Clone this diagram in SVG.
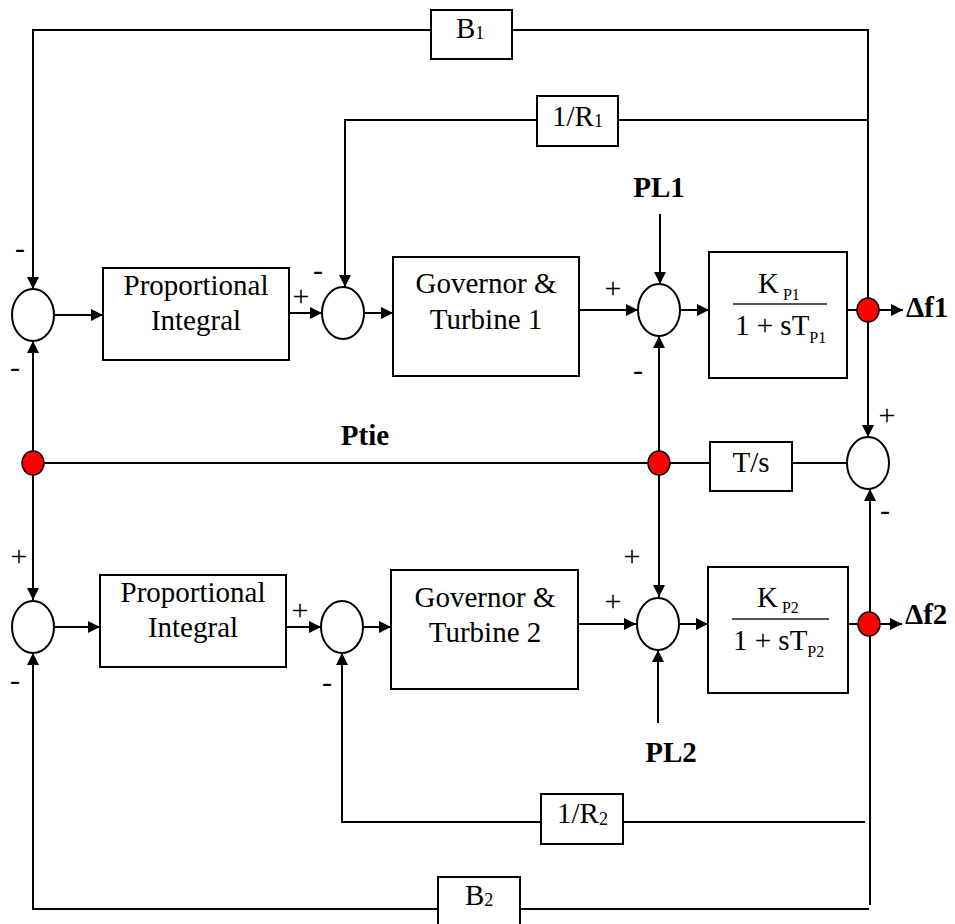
<svg xmlns="http://www.w3.org/2000/svg" width="955" height="924" viewBox="0 0 955 924">
<style>
.box{fill:#fff;stroke:#000;stroke-width:2}
.sum{fill:#fff;stroke:#000;stroke-width:2}
.dot{fill:#f00;stroke:#000;stroke-width:1.5}
.ln{fill:none;stroke:#000;stroke-width:2}
.arr{fill:none;stroke:#000;stroke-width:2;marker-end:url(#ah)}
.t{font-family:"Liberation Serif","Times New Roman",serif;font-size:29px;fill:#000}
.b{font-family:"Liberation Serif","Times New Roman",serif;font-size:29px;font-weight:bold;fill:#000}
.s{font-family:"Liberation Serif","Times New Roman",serif;font-size:30px;fill:#000;text-anchor:middle}
.sub{font-size:18px}
.ss{font-size:16px}
.frac{stroke:#555;stroke-width:2}
</style>
<defs>
<marker id="ah" viewBox="0 0 12 12" refX="12" refY="6" markerWidth="12" markerHeight="12" markerUnits="userSpaceOnUse" orient="auto">
<path d="M0,0 L12,6 L0,12 z" fill="#000"/>
</marker>
</defs>
<rect width="955" height="924" fill="#fff"/>

<g id="connectors">
<path class="arr" d="M431,30 H33 V289"/>
<path class="arr" d="M512,30 H868 V437"/>
<path class="arr" d="M537,120 H345 V287"/>
<path class="ln" d="M618,120 H868"/>
<path class="arr" d="M54,315 H103"/>
<path class="arr" d="M289,313 H322"/>
<path class="arr" d="M364,313 H393"/>
<path class="arr" d="M579,310 H638"/>
<path class="arr" d="M660,214 V284"/>
<path class="arr" d="M680,310 H709"/>
<path class="ln" d="M847,310 H858"/>
<path class="arr" d="M879,310 H903"/>
<path class="ln" d="M33,463 H710"/>
<path class="ln" d="M792,463 H847"/>
<path class="arr" d="M33,463 V341"/>
<path class="arr" d="M33,463 V600"/>
<path class="arr" d="M659,463 V336"/>
<path class="arr" d="M659,463 V597"/>
<path class="arr" d="M870,905 V489"/>
<path class="ln" d="M848,624 H858"/>
<path class="arr" d="M880,624 H902"/>
<path class="arr" d="M541,822 H342 V653"/>
<path class="ln" d="M623,822 H865"/>
<path class="arr" d="M438,909 H33 V653"/>
<path class="ln" d="M520,909 H869"/>
<path class="arr" d="M54,627 H100"/>
<path class="arr" d="M286,627 H321"/>
<path class="arr" d="M363,627 H391"/>
<path class="arr" d="M578,624 H636"/>
<path class="arr" d="M658,723 V650"/>
<path class="arr" d="M679,624 H708"/>
</g>

<g id="B1"><rect class="box" x="431" y="10" width="81" height="49"/><text class="t" x="456" y="38">B<tspan class="sub" dy="1">1</tspan></text></g>
<g id="R1"><rect class="box" x="537" y="96" width="81" height="50"/><text class="t" x="552" y="126">1/R<tspan class="sub" dy="1">1</tspan></text></g>
<g id="sum1"><ellipse class="sum" cx="33" cy="315" rx="21" ry="26"/></g>
<g id="PI1"><rect class="box" x="103" y="268" width="186" height="92"/><text class="t" x="196" y="295" text-anchor="middle">Proportional</text><text class="t" x="196" y="330" text-anchor="middle">Integral</text></g>
<g id="sum2"><ellipse class="sum" cx="343" cy="313" rx="21" ry="26"/></g>
<g id="Gov1"><rect class="box" x="393" y="257" width="186" height="119"/><text class="t" x="486" y="293" text-anchor="middle">Governor &amp;</text><text class="t" x="486" y="329" text-anchor="middle">Turbine 1</text></g>
<g id="sum3"><ellipse class="sum" cx="659" cy="310" rx="21" ry="26"/></g>
<g id="KP1"><rect class="box" x="709" y="252" width="138" height="126"/><line class="frac" x1="733" y1="304" x2="827" y2="304"/><text class="t" x="758" y="293">K<tspan class="ss" dx="4" dy="7">P1</tspan></text><text class="t" x="735" y="335">1 + sT<tspan class="ss" dy="8">P1</tspan></text></g>
<g id="dotF1"><ellipse class="dot" cx="868" cy="310" rx="11" ry="12"/></g>
<g id="lblF1"><text class="b" x="906" y="317" font-size="27">Δf1</text></g>
<g id="PL1"><text class="b" x="659" y="197" text-anchor="middle">PL1</text></g>
<g id="Ptie"><text class="b" x="365" y="445" text-anchor="middle">Ptie</text></g>
<g id="dotL"><ellipse class="dot" cx="33" cy="463" rx="11" ry="12"/></g>
<g id="dotM"><ellipse class="dot" cx="659" cy="463" rx="11" ry="12"/></g>
<g id="Ts"><rect class="box" x="710" y="442" width="82" height="49"/><text class="t" x="751" y="472" text-anchor="middle">T/s</text></g>
<g id="sumT"><ellipse class="sum" cx="868" cy="463" rx="21" ry="26"/></g>
<g id="sum4"><ellipse class="sum" cx="33" cy="627" rx="21" ry="26"/></g>
<g id="PI2"><rect class="box" x="100" y="575" width="186" height="92"/><text class="t" x="193" y="602" text-anchor="middle">Proportional</text><text class="t" x="193" y="637" text-anchor="middle">Integral</text></g>
<g id="sum5"><ellipse class="sum" cx="342" cy="627" rx="21" ry="26"/></g>
<g id="Gov2"><rect class="box" x="391" y="570" width="187" height="119"/><text class="t" x="485" y="607" text-anchor="middle">Governor &amp;</text><text class="t" x="485" y="642" text-anchor="middle">Turbine 2</text></g>
<g id="sum6"><ellipse class="sum" cx="658" cy="624" rx="21" ry="26"/></g>
<g id="KP2"><rect class="box" x="708" y="567" width="140" height="126"/><line class="frac" x1="732" y1="619" x2="829" y2="619"/><text class="t" x="757" y="607">K<tspan class="ss" dx="4" dy="6">P2</tspan></text><text class="t" x="733" y="650">1 + sT<tspan class="ss" dy="7">P2</tspan></text></g>
<g id="dotF2"><ellipse class="dot" cx="869" cy="624" rx="11" ry="12"/></g>
<g id="lblF2"><text class="b" x="905" y="624" font-size="27">Δf2</text></g>
<g id="PL2"><text class="b" x="671" y="762" text-anchor="middle">PL2</text></g>
<g id="R2"><rect class="box" x="541" y="794" width="82" height="50"/><text class="t" x="557" y="823">1/R<tspan class="sub" dy="2">2</tspan></text></g>
<g id="B2"><rect class="box" x="438" y="877" width="82" height="70"/><text class="t" x="465" y="905">B<tspan class="sub" dy="1">2</tspan></text></g>

<g id="signs">
<text class="s" x="20" y="258">-</text>
<text class="s" x="15" y="377">-</text>
<text class="s" x="301" y="306">+</text>
<text class="s" x="318" y="280">-</text>
<text class="s" x="613" y="298">+</text>
<text class="s" x="638" y="380">-</text>
<text class="s" x="887" y="425">+</text>
<text class="s" x="19" y="566">+</text>
<text class="s" x="300" y="620">+</text>
<text class="s" x="613" y="611">+</text>
<text class="s" x="632" y="566">+</text>
<text class="s" x="885" y="520">-</text>
<text class="s" x="15" y="690">-</text>
<text class="s" x="327" y="692">-</text>
</g>
</svg>
